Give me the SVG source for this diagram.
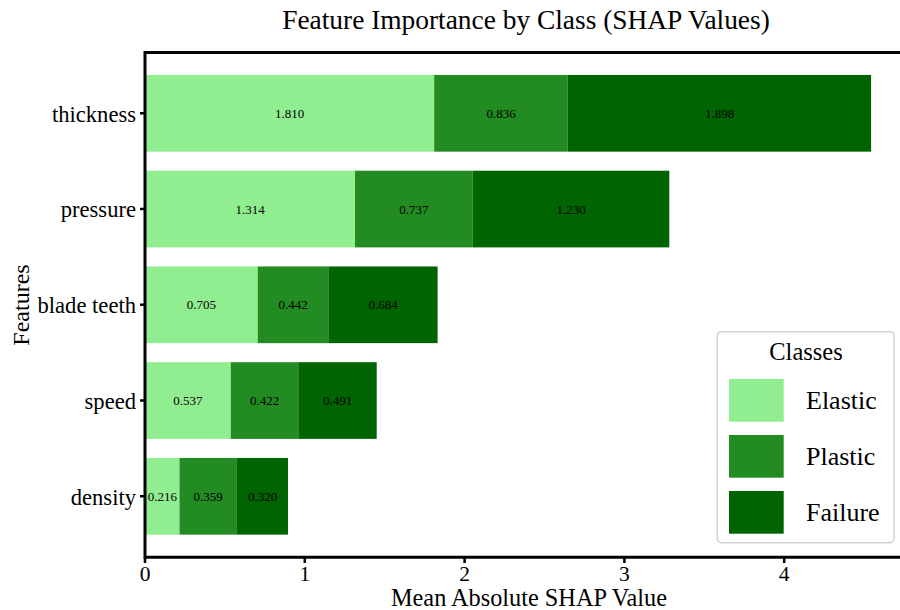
<svg xmlns="http://www.w3.org/2000/svg" width="900" height="610" viewBox="0 0 900 610">
<style>
text{font-family:"Liberation Serif","Times New Roman",serif;fill:#000}
.v{font-size:13px;text-anchor:middle}
.yt{font-size:22.6px;text-anchor:end}
.xt{font-size:21.5px;text-anchor:middle}
.e{fill:#90EE90}.p{fill:#228B22}.f{fill:#006400}
.ax{stroke:#000;stroke-width:3;fill:none}
.tk{stroke:#000;stroke-width:2.5}
</style>
<rect width="900" height="610" fill="#fff"/>
<text x="526" y="29" font-size="27.4" text-anchor="middle">Feature Importance by Class (SHAP Values)</text>
<g id="bars">
<g id="thickness"><rect class="e" x="145" y="74.95" width="289.2" height="76.7"/><rect class="p" x="434.2" y="74.95" width="133.6" height="76.7"/><rect class="f" x="567.8" y="74.95" width="303.3" height="76.7"/>
<text class="v" x="289.6" y="117.8">1.810</text><text class="v" x="501" y="117.8">0.836</text><text class="v" x="719.5" y="117.8">1.898</text></g>
<g id="pressure"><rect class="e" x="145" y="170.7" width="210" height="76.7"/><rect class="p" x="355" y="170.7" width="117.8" height="76.7"/><rect class="f" x="472.8" y="170.7" width="196.5" height="76.7"/>
<text class="v" x="250" y="213.5">1.314</text><text class="v" x="413.9" y="213.5">0.737</text><text class="v" x="571" y="213.5">1.230</text></g>
<g id="blade-teeth"><rect class="e" x="145" y="266.45" width="112.7" height="76.7"/><rect class="p" x="257.7" y="266.45" width="70.6" height="76.7"/><rect class="f" x="328.3" y="266.45" width="109.3" height="76.7"/>
<text class="v" x="201.4" y="309.3">0.705</text><text class="v" x="293" y="309.3">0.442</text><text class="v" x="383" y="309.3">0.684</text></g>
<g id="speed"><rect class="e" x="145" y="362.2" width="85.8" height="76.7"/><rect class="p" x="230.8" y="362.2" width="67.5" height="76.7"/><rect class="f" x="298.3" y="362.2" width="78.4" height="76.7"/>
<text class="v" x="187.9" y="405">0.537</text><text class="v" x="264.6" y="405">0.422</text><text class="v" x="337.5" y="405">0.491</text></g>
<g id="density"><rect class="e" x="145" y="457.95" width="34.5" height="76.7"/><rect class="p" x="179.5" y="457.95" width="57.4" height="76.7"/><rect class="f" x="236.9" y="457.95" width="51.1" height="76.7"/>
<text class="v" x="162.3" y="500.8">0.216</text><text class="v" x="208.2" y="500.8">0.359</text><text class="v" x="262.5" y="500.8">0.320</text></g>
</g>
<g id="axes">
<path class="ax" d="M145,557.3 L145,52.5 L902,52.5 M143.5,557.3 L902,557.3"/>
<path class="tk" d="M140,113.3H145M140,209.05H145M140,304.8H145M140,400.55H145M140,496.3H145"/>
<path class="tk" d="M145,557.3V563M304.8,557.3V563M464.6,557.3V563M624.4,557.3V563M784.2,557.3V563"/>
<text class="yt" x="136" y="121.5">thickness</text>
<text class="yt" x="136" y="217.2">pressure</text>
<text class="yt" x="136" y="313">blade teeth</text>
<text class="yt" x="136" y="408.7">speed</text>
<text class="yt" x="136" y="504.5">density</text>
<text class="xt" x="145" y="581.3">0</text>
<text class="xt" x="304.8" y="581.3">1</text>
<text class="xt" x="464.6" y="581.3">2</text>
<text class="xt" x="624.4" y="581.3">3</text>
<text class="xt" x="784.2" y="581.3">4</text>
<text x="529" y="606" font-size="24.3" text-anchor="middle">Mean Absolute SHAP Value</text>
<text x="29" y="305" font-size="24" text-anchor="middle" transform="rotate(-90 29 305)">Features</text>
</g>
<g id="legend">
<rect x="717.3" y="331.7" width="176.7" height="211" rx="4" fill="#fff" fill-opacity="0.8" stroke="#d0d0d0" stroke-width="1.5"/>
<text x="806" y="359.5" font-size="24.5" text-anchor="middle">Classes</text>
<rect class="e" x="729" y="379" width="54.7" height="42.7"/>
<rect class="p" x="729" y="435" width="54.7" height="42.7"/>
<rect class="f" x="729" y="491" width="54.7" height="42.7"/>
<text x="806" y="408.5" font-size="26">Elastic</text>
<text x="806" y="464.5" font-size="26">Plastic</text>
<text x="806" y="520.5" font-size="26">Failure</text>
</g>
</svg>
